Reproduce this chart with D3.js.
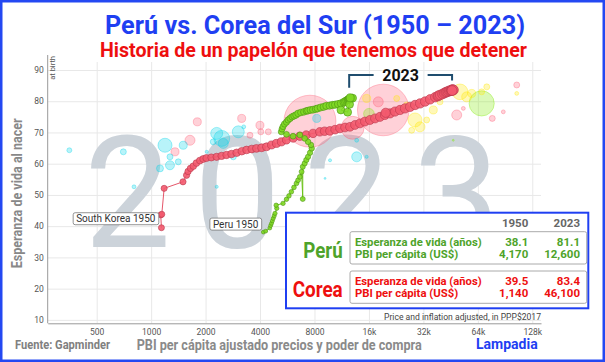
<!DOCTYPE html>
<html>
<head>
<meta charset="utf-8">
<script src="https://cdn.jsdelivr.net/npm/d3@7"></script>
<style>
  body { margin: 0; background: #fff; }
  svg { display: block; font-family: Roboto, "Noto Sans", sans-serif; }
</style>
</head>
<body>
<svg width="605" height="362"></svg>
<script>
// ---- data ----
const startYear = 1950;
const endYear = 2023;

const koreaGdp = [1140,1130,1145,1180,1500,1570,1600,1650,1710,1780,
  1860,1940,2020,2150,2300,2450,2610,2780,2970,3170,
  3370,3600,3820,4080,4340,4630,4930,5250,5600,6100,
  6640,7200,7850,8560,9100,9730,10400,11060,11800,12560,
  13400,14270,15200,16210,17300,18420,19600,20920,19800,22300,
  23770,25300,27000,28800,30680,32700,34850,37200,38400,38800,
  39590,40800,41700,42500,43070,43800,44500,45200,45800,46300,
  45900,46500,46900,46100];
const koreaLife = [39.5,43.6,43.8,52.1,54.2,56.3,57.5,58.5,59.2,60.2,
  61.0,61.5,61.8,62.0,62.2,62.5,62.8,63.1,63.5,64.0,
  64.4,64.7,64.9,65.1,65.4,66.0,66.5,67.0,67.6,68.2,
  68.8,69.2,69.7,70.2,70.4,70.5,70.9,71.3,71.6,71.8,
  72.4,72.9,73.5,74.0,74.5,75.0,75.6,76.1,76.3,76.7,
  77.2,77.7,78.2,78.8,79.3,79.9,80.6,81.3,81.6,81.8,
  82.0,82.3,82.6,82.8,83.0,83.1,83.3,83.4,83.5,83.6,
  83.6,83.7,83.6,83.4];
const koreaPop = [19.2,19.3,19.5,19.8,20.4,21.0,21.7,22.4,23.1,23.9,
  24.7,25.4,26.2,26.9,27.6,28.3,29.0,29.6,30.2,30.8,
  31.4,32.0,32.6,33.2,33.8,34.4,34.9,35.5,36.0,36.6,
  37.2,37.7,38.3,38.8,39.2,39.6,40.0,40.4,40.8,41.2,
  41.6,42.0,42.4,42.9,43.3,43.8,44.2,44.6,45.0,45.3,
  45.7,46.0,46.3,46.6,46.9,47.2,47.5,47.8,48.2,48.6,
  49.0,49.4,49.8,50.2,50.5,50.8,51.1,51.3,51.5,51.7,
  51.8,51.8,51.8,51.7];

const peruGdp = [4170,4300,4530,4580,4630,4680,4730,4790,4840,4950,
  4910,5360,5600,5780,5960,6160,6360,6490,6640,6790,
  6890,6890,7060,7210,7370,7560,7720,7650,7370,7060,
  6640,6090,5600,5240,5290,5360,5460,5600,5720,5860,
  6010,6160,6320,6490,6730,6990,7230,7370,7600,7850,
  8130,8330,8650,8990,9300,9700,10050,10400,10800,11200,
  11600,11800,12000,12200,12300,12400,12500,12600,12800,13000,
  11200,12200,12500,12600];
const peruLife = [38.1,38.4,39.4,40.2,40.9,41.7,42.5,43.3,44.1,45.7,
  46.7,47.3,48.6,49.7,51.0,52.4,53.7,54.7,55.8,57.4,
  48.7,59.0,60.1,61.2,62.2,63.5,64.9,66.0,67.0,68.1,
  69.2,68.8,69.4,70.2,71.1,71.9,72.7,73.3,74.0,74.5,
  75.0,75.3,75.6,76.1,76.4,76.6,76.9,77.0,77.2,77.3,
  77.5,77.7,78.0,78.2,78.5,78.6,78.8,78.9,79.1,79.3,
  79.7,79.9,80.2,80.4,80.5,80.6,80.7,80.8,80.9,81.0,
  77.2,76.5,79.0,81.1];
const peruPop = [7.6,7.8,8.0,8.2,8.4,8.7,8.9,9.2,9.4,9.7,
  10.0,10.3,10.6,10.9,11.2,11.5,11.8,12.2,12.5,12.9,
  13.2,13.6,14.0,14.4,14.7,15.1,15.5,15.9,16.4,16.8,
  17.3,17.7,18.2,18.6,19.1,19.5,20.0,20.4,20.9,21.3,
  21.8,22.2,22.7,23.1,23.6,24.0,24.4,24.8,25.2,25.6,
  26.0,26.3,26.6,26.9,27.2,27.5,27.8,28.1,28.4,28.7,
  29.0,29.3,29.6,29.9,30.2,30.5,30.9,31.4,32.0,32.5,
  33.0,33.4,33.7,34.0];

// other countries in 2023 (faded bubbles)
const otherGdp = [353,702,804,1193,1119,1271,1271,1413,1505,1355,1640,1800,2028,2304,2456,2505,2846,3032,3166,3251,
  3519,3995,4040,4444,8230,13690,7550,19200,67200,15540,18020,22780,25870,28760,30650,33370,27570,36300,39530,48900,
  53200,51000,55500,59200,67200,71700,105000,105000,88500,76900,46800,9150,9750,13690,15540,2304,2205,13000,16000];
const otherLife = [64.3,63.8,52.6,65.9,58.5,59.5,62.2,60.6,65.9,63.8,67.5,73.4,63.8,69.7,68.1,66.5,62.2,70.2,74.5,71.8,
  69.1,72.3,70.2,70.2,74.5,62.2,73.6,77.2,79.3,80.9,79.8,80.9,78.8,74.0,71.8,74.0,70.7,77.2,79.8,75.6,
  77.7,83.0,81.4,82.5,83.0,84.6,85.2,82.5,76.6,74.5,67.5,55.3,61.1,67.5,62.2,52.6,67.0,71.5,76.0];
const otherPop = [13,19,8,104,26,43,19,19,34,34,53,34,5,76,135,53,19,76,34,8,
  19,34,19,19,34,53,1430,1410,335,34,53,19,19,104,53,19,19,34,19,53,
  8,130,53,34,19,19,19,8,8,19,2,2,5,8,5,5,19,278,60];
const otherRegion = ["af","af","af","af","af","af","af","af","af","as","as","as","af","af","af","af","af","af","as","af",
  "as","as","as","as","af","af","as","as","am","eu","as","eu","eu","eu","eu","eu","eu","eu","eu","as",
  "as","eu","eu","eu","eu","eu","as","eu","as","as","am","af","af","af","af","af","af","as","am"];

const xTicks = [500,1000,2000,4000,8000,16000,32000,64000,128000];
const xTickLabels = ["500","1000","2000","4000","8000","16k","32k","64k","128k"];
const yTicks = [10,20,30,40,50,60,70,80,90];

const tableYears = ["1950","2023"];
const tableRows = ["Esperanza de vida (años)","PBI per cápita (US$)"];
const peruTable = [["38.1","81.1"],["4,170","12,600"]];
const coreaTable = [["39.5","83.4"],["1,140","46,100"]];

// ---- drawing ----
const svg = d3.select("svg");
const blue = "#1f3ff2";
const green = "#4ea32a";
const red = "#ee0f0f";
const regionColor = {af: "#00d5e9", as: "#ff5872", eu: "#ffe700", am: "#7feb00"};

const plotLeft = 47.7, plotRight = 541, plotTop = 62, plotBottom = 323.3;
const x = d3.scaleLog().domain([268, 143000]).range([plotLeft, plotRight]);
const y = d3.scaleLinear().domain([8.9, 93.2]).range([plotBottom, 60]);
const r = d3.scaleSqrt().domain([0, 1430]).range([0, 26]);

svg.append("rect")
  .attr("x", 1.25).attr("y", 1.25)
  .attr("width", 602.5).attr("height", 359.5)
  .attr("fill", "none").attr("stroke", "#2448f2").attr("stroke-width", 2.5);

// grid
const gridX = svg.append("g")
  .attr("transform", "translate(0," + plotBottom + ")")
  .call(d3.axisBottom(x).tickValues(xTicks).tickSize(-(plotBottom - plotTop)).tickFormat(""));
const gridY = svg.append("g")
  .attr("transform", "translate(" + plotLeft + ",0)")
  .call(d3.axisLeft(y).tickValues(yTicks).tickSize(-(plotRight - plotLeft)).tickFormat(""));
[gridX, gridY].forEach(g => {
  g.select(".domain").remove();
  g.selectAll("line").attr("stroke", "#e8e8e8");
});

// year watermark
svg.append("text")
  .attr("x", 84).attr("y", 247)
  .attr("textLength", 416).attr("lengthAdjust", "spacing")
  .attr("font-size", 155)
  .attr("fill", "#ccd3da")
  .text(endYear);

// other countries, faded
const others = d3.range(otherGdp.length).sort((a, b) => otherPop[b] - otherPop[a]);
svg.append("g").selectAll("circle")
  .data(others)
  .enter()
  .append("circle")
  .attr("cx", i => x(otherGdp[i]))
  .attr("cy", i => y(otherLife[i]))
  .attr("r", i => r(otherPop[i]))
  .attr("fill", i => regionColor[otherRegion[i]])
  .attr("fill-opacity", 0.28)
  .attr("stroke", i => regionColor[otherRegion[i]])
  .attr("stroke-opacity", 0.5)
  .attr("stroke-width", 0.7);

// axes
const xAxis = svg.append("g")
  .attr("transform", "translate(0," + plotBottom + ")")
  .call(d3.axisBottom(x).tickValues(xTicks).tickSize(0).tickPadding(6)
    .tickFormat((d, i) => xTickLabels[i]));
const yAxis = svg.append("g")
  .attr("transform", "translate(" + plotLeft + ",0)")
  .call(d3.axisLeft(y).tickValues(yTicks).tickSize(0).tickPadding(4));
[xAxis, yAxis].forEach(g => {
  g.select(".domain").attr("stroke", "#999");
  g.selectAll("text").attr("font-family", "Roboto").attr("font-size", 8.5).attr("fill", "#555");
});
yAxis.select(".domain").attr("d", "M0," + 55 + "V" + plotBottom);

svg.append("text")
  .attr("transform", "translate(55,56) rotate(-90)")
  .attr("text-anchor", "end")
  .attr("font-size", 7.5).attr("fill", "#555")
  .text("at birth");

svg.append("text")
  .attr("x", plotRight).attr("y", 319.5)
  .attr("text-anchor", "end")
  .attr("font-size", 9).attr("fill", "#444")
  .attr("textLength", 157).attr("lengthAdjust", "spacingAndGlyphs")
  .text("Price and inflation adjusted, in PPP$2017");

// trails
function drawTrail(gdp, life, pop, fill, stroke, lineColor) {
  const idx = d3.range(gdp.length);
  const line = d3.line().x(i => x(gdp[i])).y(i => y(life[i]));
  svg.append("path")
    .attr("d", line(idx))
    .attr("fill", "none")
    .attr("stroke", lineColor)
    .attr("stroke-width", 1);
  svg.append("g").selectAll("circle")
    .data(idx)
    .enter()
    .append("circle")
    .attr("cx", i => x(gdp[i]))
    .attr("cy", i => y(life[i]))
    .attr("r", i => r(pop[i]))
    .attr("fill", fill)
    .attr("fill-opacity", 0.9)
    .attr("stroke", stroke)
    .attr("stroke-width", 0.6);
}
drawTrail(koreaGdp, koreaLife, koreaPop, "#f35a6e", "#b8384c", "#e5566a");
drawTrail(peruGdp, peruLife, peruPop, "#80d823", "#4c9410", "#6cc21a");

// start labels
function startLabel(gdp, life, label, dx, dy) {
  const g = svg.append("g");
  const t = g.append("text")
    .attr("x", x(gdp) + dx).attr("y", y(life) + dy)
    .attr("text-anchor", "end")
    .attr("font-size", 10).attr("fill", "#333")
    .text(label);
  const b = t.node().getBBox();
  g.insert("rect", "text")
    .attr("x", b.x - 3).attr("y", b.y - 0.5)
    .attr("width", b.width + 6).attr("height", b.height + 1)
    .attr("rx", 2)
    .attr("fill", "#fff").attr("stroke", "#777").attr("stroke-width", 0.8);
}
startLabel(koreaGdp[0], koreaLife[0], "South Korea " + startYear, -6, -5.5);
startLabel(peruGdp[0], peruLife[0], "Peru " + startYear, -5, -4.5);

// 2023 bracket
const xl = x(peruGdp[peruGdp.length - 1]) - 1;
const xr = x(koreaGdp[koreaGdp.length - 1]);
const yl = y(peruLife[peruLife.length - 1]) - 10;
const yr = y(koreaLife[koreaLife.length - 1]) - 10;
const bTop = 75;
const mid = (xl + xr) / 2;
svg.append("path")
  .attr("d", "M" + xl + "," + yl + "V" + bTop + "H" + (mid - 27) +
    "M" + (mid + 27) + "," + bTop + "H" + xr + "V" + yr)
  .attr("fill", "none").attr("stroke", "#1f4d6e").attr("stroke-width", 2);
svg.append("text")
  .attr("x", mid).attr("y", bTop + 5.5)
  .attr("text-anchor", "middle")
  .attr("font-size", 16).attr("font-weight", "bold").attr("fill", "#111")
  .text(endYear);

// table box
const tb = svg.append("g");
tb.append("rect")
  .attr("x", 286).attr("y", 212.7).attr("width", 302.3).attr("height", 95.6)
  .attr("fill", "#fff").attr("stroke", blue).attr("stroke-width", 2);
const colX = [528.3, 580];
tb.selectAll(".hdr")
  .data(tableYears)
  .enter()
  .append("text")
  .attr("x", (d, i) => colX[i]).attr("y", 226.8)
  .attr("text-anchor", "end")
  .attr("font-size", 11.5).attr("font-weight", "bold").attr("fill", "#666")
  .text(d => d);

function block(y0, name, nameLen, color, values) {
  tb.append("rect")
    .attr("x", 350).attr("y", y0).attr("width", 236.7).attr("height", 32.3)
    .attr("rx", 2).attr("fill", "#fff").attr("stroke", "#aaa").attr("stroke-width", 1);
  tb.append("text")
    .attr("x", 342.7).attr("y", y0 + 25.8)
    .attr("text-anchor", "end")
    .attr("font-size", 22).attr("font-weight", "bold").attr("fill", color)
    .attr("textLength", nameLen).attr("lengthAdjust", "spacingAndGlyphs")
    .text(name);
  const lens = [126.7, 103.3];
  tableRows.forEach((row, j) => {
    const yy = y0 + 14 + j * 12.4;
    tb.append("text")
      .attr("x", 355).attr("y", yy)
      .attr("font-size", 11.5).attr("font-weight", "bold").attr("fill", color)
      .attr("textLength", lens[j]).attr("lengthAdjust", "spacingAndGlyphs")
      .text(row);
    values[j].forEach((v, k) => {
      tb.append("text")
        .attr("x", colX[k]).attr("y", yy)
        .attr("text-anchor", "end")
        .attr("font-size", 11.5).attr("font-weight", "bold").attr("fill", color)
        .text(v);
    });
  });
}
block(231.7, "Perú", 39.4, green, peruTable);
block(271, "Corea", 50, red, coreaTable);

// titles
svg.append("text")
  .attr("x", 105).attr("y", 33.5)
  .attr("font-size", 26).attr("font-weight", "bold").attr("fill", blue)
  .attr("textLength", 420).attr("lengthAdjust", "spacingAndGlyphs")
  .text("Perú vs. Corea del Sur (1950 – 2023)");
svg.append("text")
  .attr("x", 100).attr("y", 57)
  .attr("font-size", 20).attr("font-weight", "bold").attr("fill", red)
  .attr("textLength", 427).attr("lengthAdjust", "spacingAndGlyphs")
  .text("Historia de un papelón que tenemos que detener");

// axis titles and footer
svg.append("text")
  .attr("transform", "translate(21.5,193.3) rotate(-90)")
  .attr("text-anchor", "middle")
  .attr("font-size", 14).attr("font-weight", "bold").attr("fill", "#888")
  .attr("textLength", 150).attr("lengthAdjust", "spacingAndGlyphs")
  .text("Esperanza de vida al nacer");
svg.append("text")
  .attr("x", 15).attr("y", 348.5)
  .attr("font-size", 12).attr("font-weight", "bold").attr("fill", "#808080")
  .attr("textLength", 95).attr("lengthAdjust", "spacingAndGlyphs")
  .text("Fuente: Gapminder");
svg.append("text")
  .attr("x", 136.7).attr("y", 349.5)
  .attr("font-size", 14.5).attr("font-weight", "bold").attr("fill", "#8a8a8a")
  .attr("textLength", 285).attr("lengthAdjust", "spacingAndGlyphs")
  .text("PBI per cápita ajustado precios y poder de compra");
svg.append("text")
  .attr("x", 476).attr("y", 349)
  .attr("font-size", 15.5).attr("font-weight", "bold").attr("fill", blue)
  .attr("textLength", 61.7).attr("lengthAdjust", "spacingAndGlyphs")
  .text("Lampadia");
</script>
</body>
</html>
